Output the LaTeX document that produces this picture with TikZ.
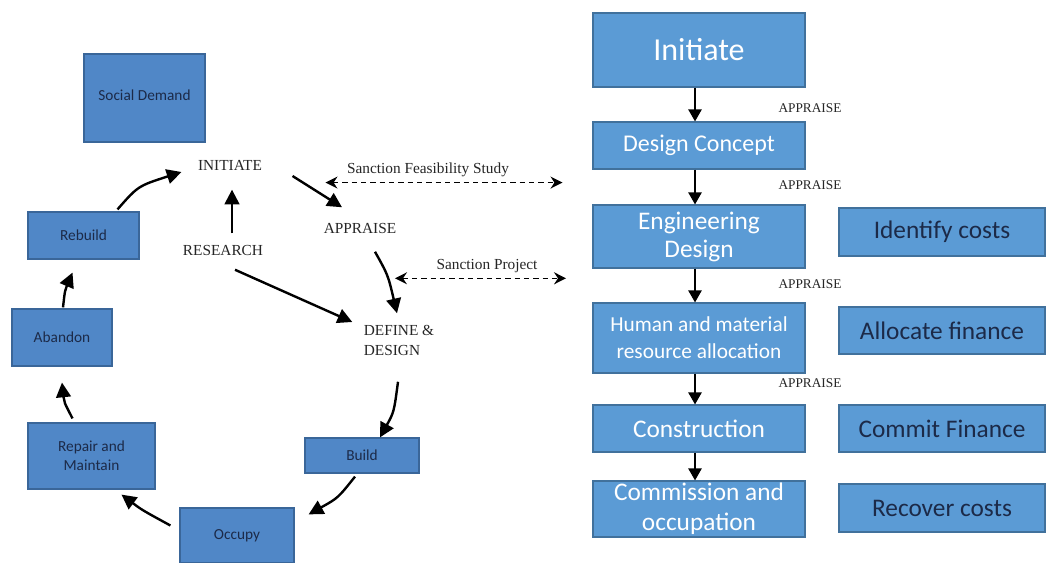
\documentclass[tikz,border=0pt]{standalone}
\usepackage{fontspec}
\setmainfont{Carlito}
\newfontfamily\tnr{Liberation Serif}
\usetikzlibrary{arrows.meta,calc}
\definecolor{lfill}{HTML}{5087C7}
\definecolor{lline}{HTML}{3A6699}
\definecolor{rfill}{HTML}{5B9BD5}
\definecolor{rline}{HTML}{41719C}
\definecolor{navy}{HTML}{1C2A48}
\begin{document}
\begin{tikzpicture}[x=0.75pt,y=-0.75pt,
  wh/.style 2 args={minimum width=#1*0.75pt, minimum height=#2*0.75pt},
  lbox/.style={draw=lline, fill=lfill, line width=0.9pt, text=navy, align=center, inner sep=0pt, font=\fontsize{11.5}{14.5}\selectfont},
  rbox/.style={draw=rline, fill=rfill, line width=0.9pt, text=white, align=center, inner sep=0pt, font=\fontsize{19}{21}\selectfont},
  cbox/.style={rbox, text=navy},
  capt/.style={font=\tnr\fontsize{11.5}{15}\selectfont, inner sep=1pt, text=black!85, align=left},
  apr/.style={font=\tnr\fontsize{10}{12}\selectfont, inner sep=1pt, text=black!85},
  arr/.style={line width=1.8pt, -{Triangle[length=11pt,width=11pt]}},
  rarr/.style={line width=1.1pt, -{Triangle[length=9pt,width=10pt]}},
  darr/.style={line width=1.1pt, dash pattern=on 4pt off 3pt, {Stealth[length=9pt,width=9pt]}-{Stealth[length=9pt,width=9pt]}}
]
\useasboundingbox (0,0) rectangle (1048,563);
\fill[white] (0,0) rectangle (1048,563);

% left cycle boxes
\node[lbox, wh={121}{88}] (soc) at (144.5,98) {\raisebox{3.5pt}{Social Demand}};
\node[lbox, wh={111}{47}] (rebuild) at (83.5,235.5) {Rebuild};
\node[lbox, wh={100}{57}] (abandon) at (62,337.5) {Abandon};
\node[lbox, wh={127}{66}] (repair) at (91.5,456) {Repair and\\Maintain};
\node[lbox, wh={114}{35}] (build) at (362,455.5) {Build};
\node[lbox, wh={114}{55}] (occupy) at (237,535.5) {Occupy};

% left captions
\node[capt] (initT) at (230,165) {INITIATE};
\node[capt] (research) at (223,250) {RESEARCH};
\node[capt] (appraise) at (360,228) {APPRAISE};
\node[capt] (define) at (399,340) {DEFINE \&\\DESIGN};
\node[capt] (sfs) at (428,170) {Sanction Feasibility Study};
\node[capt] (sp) at (487,266) {Sanction Project};

% cycle arrows
\draw[arr] ($(rebuild.north)+(34,-2)$) .. controls (138,186) .. ($(initT.west)+(-15,7)$);
\draw[arr] ($(research.north)+(9,-10)$) -- ($(initT.south)+(2,18)$);
\draw[arr] ($(initT.east)+(29,11)$) -- ($(appraise.north)+(-18,-14)$);
\draw[arr] ($(appraise.south)+(15,17)$) .. controls (388,275) .. ($(define.north)+(-2,-10)$);
\draw[arr] ($(research.south)+(12,13)$) -- ($(define.west)+(-10,-18)$);
\draw[arr] ($(define.south)+(-1,25)$) .. controls (394,412) .. ($(build.north)+(18,0)$);
\draw[arr] ($(build.south)+(-7,3)$) .. controls (338,498) .. ($(occupy.north east)+(14,7)$);
\draw[arr] ($(occupy.west)+(-9,-10)$) .. controls (142,510) .. ($(repair.south)+(30,5)$);
\draw[arr] ($(repair.north)+(-19,-4)$) .. controls (64,402) .. ($(abandon.south)+(0,16)$);
\draw[arr] ($(abandon.north)+(1,-1)$) .. controls (65,290) .. ($(rebuild.south)+(-11,13)$);

% dashed sanction arrows
\draw[darr] ($(sfs.south west)+(-20,4)$) -- ($(sfs.south east)+(52,4)$);
\draw[darr] ($(sp.south west)+(-40,4)$) -- ($(sp.south east)+(27,4)$);

% right column
\node[rbox, wh={212}{74}, font=\fontsize{24}{28}\selectfont] (init) at (699,50) {Initiate};
\node[rbox, wh={212}{47}, font=\fontsize{18}{21}\selectfont] (dc) at (699,145.5) {Design Concept};
\node[rbox, wh={212}{63}] (ed) at (699,236.5) {Engineering\\Design};
\node[rbox, wh={212}{70}, font=\fontsize{16}{20}\selectfont] (hm) at (699,338) {Human and material\\resource allocation};
\node[rbox, wh={212}{47}] (con) at (699,428.5) {Construction};
\node[rbox, wh={212}{56}, font=\fontsize{19}{22.5}\selectfont] (com) at (699,509) {Commission and\\occupation};

\node[cbox, wh={206}{48}] (idc) at (942,232) {Identify costs};
\node[cbox, wh={206}{47}] (alf) at (942,330.5) {Allocate finance};
\node[cbox, wh={206}{47}] (cmf) at (942,428.5) {Commit Finance};
\node[cbox, wh={206}{48}] (rec) at (942,508) {Recover costs};

\foreach \a/\b in {init/dc, dc/ed, ed/hm, hm/con, con/com}
  \draw[rarr] ($(\a.south)+(-4,0)$) -- ($(\b.north)+(-4,0)$);

\node[apr] (ap1) at (810,108) {APPRAISE};
\node[apr] (ap2) at (810,185) {APPRAISE};
\node[apr] (ap3) at (810,284) {APPRAISE};
\node[apr] (ap4) at (810,383) {APPRAISE};
\end{tikzpicture}
\end{document}
